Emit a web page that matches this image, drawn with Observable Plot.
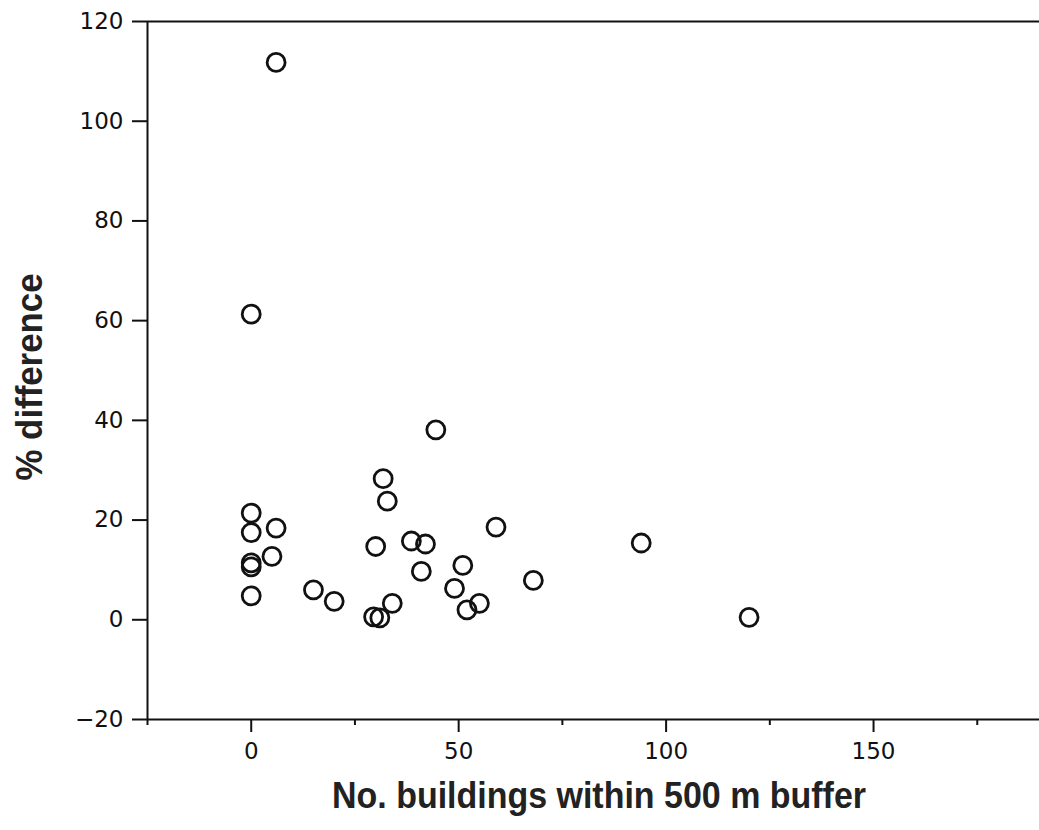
<!DOCTYPE html>
<html>
<head>
<meta charset="utf-8">
<script src="https://cdn.jsdelivr.net/npm/d3@7"></script>
<script src="https://cdn.jsdelivr.net/npm/@observablehq/plot@0.6"></script>
<style>
  html, body { margin: 0; padding: 0; background: #fff; }
  #chart svg { display: block; }
</style>
</head>
<body>
<div id="chart"></div>
<script>
// Data
const buildings = [6, 0, 44.5, 31.8, 32.8, 0, 0, 6, 0, 0, 5, 0, 15, 20, 30, 29.5, 31, 34, 38.6, 42, 41, 59, 51, 49, 52, 55, 68, 94, 120];
const pctDiff   = [111.8, 61.3, 38.1, 28.3, 23.8, 21.4, 17.5, 18.4, 11.4, 10.6, 12.7, 4.8, 6.0, 3.7, 14.7, 0.6, 0.4, 3.3, 15.8, 15.2, 9.7, 18.6, 10.9, 6.3, 2.0, 3.3, 7.9, 15.4, 0.5];
const xMajorTicks = [0, 50, 100, 150];
const xMinorTicks = [-25, 25, 75, 125, 175];
const yTicks = [-20, 0, 20, 40, 60, 80, 100, 120];
const xTitle = "No. buildings within 500 m buffer";
const yTitle = "% difference";

const points = buildings.map((b, i) => ({b, d: pctDiff[i]}));

const W = 1039, H = 830;
const chart = Plot.plot({
  width: W,
  height: H,
  marginLeft: 147,
  marginRight: 0,
  marginTop: 21,
  marginBottom: 111,
  style: {fontFamily: "DejaVu Sans", fontSize: "23px", color: "#111", background: "#fff"},
  x: {domain: [-25, 190]},
  y: {domain: [-20, 120]},
  marks: [
    Plot.ruleY([120, -20], {stroke: "#111", strokeWidth: 2}),
    Plot.ruleX([-25], {stroke: "#111", strokeWidth: 2}),
    Plot.axisY({ticks: yTicks, tickSize: 15, tickPadding: 9, label: null, strokeWidth: 2, tickFormat: d => d < 0 ? "\u2212" + Math.abs(d) : String(d)}),
    Plot.axisX({ticks: xMajorTicks, tickSize: 13, tickPadding: 10, label: null, strokeWidth: 2}),
    Plot.axisX({ticks: xMinorTicks, tickSize: 6, text: null, label: null, strokeWidth: 2}),
    Plot.dot(points, {x: "b", y: "d", r: 9, stroke: "#111", strokeWidth: 2.8, fill: "none"})
  ]
});

const svg = d3.select(chart);
svg.append("text")
  .attr("x", 599)
  .attr("y", 808)
  .attr("text-anchor", "middle")
  .attr("textLength", 534)
  .attr("lengthAdjust", "spacingAndGlyphs")
  .style("font-family", "Liberation Sans, Arial, sans-serif")
  .style("font-weight", "bold")
  .style("font-size", "37px")
  .style("fill", "#222")
  .text(xTitle);
svg.append("text")
  .attr("transform", "translate(42,377) rotate(-90)")
  .attr("text-anchor", "middle")
  .attr("textLength", 207)
  .attr("lengthAdjust", "spacingAndGlyphs")
  .style("font-family", "Liberation Sans, Arial, sans-serif")
  .style("font-weight", "bold")
  .style("font-size", "36px")
  .style("fill", "#222")
  .text(yTitle);

document.getElementById("chart").appendChild(chart);
</script>
</body>
</html>
